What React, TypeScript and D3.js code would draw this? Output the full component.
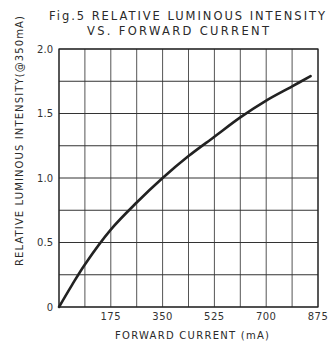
import React from 'react';
import * as d3 from 'd3';

const currentMA = [0, 43.75, 87.5, 175, 262.5, 350, 437.5, 525, 612.5, 700, 787.5, 850];
const relIntensity = [0, 0.17, 0.33, 0.6, 0.81, 1.0, 1.17, 1.32, 1.47, 1.6, 1.71, 1.79];
const xTicks = [175, 350, 525, 700, 875];
const yTicks = [0, 0.5, 1.0, 1.5, 2.0];
const xGrid = d3.range(0, 876, 87.5);
const yGrid = d3.range(0, 2.01, 0.25);

const W = 332;
const H = 344;
const margin = { top: 49, right: 14, bottom: 37, left: 59 };

const App = () => {
    const iw = W - margin.left - margin.right;
    const ih = H - margin.top - margin.bottom;
    const x = d3.scaleLinear().domain([0, 875]).range([0, iw]);
    const y = d3.scaleLinear().domain([0, 2]).range([ih, 0]);
    const pts = currentMA.map((c, i) => [c, relIntensity[i]] as [number, number]);
    const line = d3.line<[number, number]>()
        .x(d => x(d[0])).y(d => y(d[1]))
        .curve(d3.curveCatmullRom.alpha(0.5));
    const font = "'DejaVu Sans', sans-serif";
    const ink = '#2a2a2a';

    return (
        <svg width={W} height={H} style={{ position: 'absolute', left: 0, top: 0, background: '#fff' }}
            fontFamily={font} fill={ink}>
            <text x={187} y={20} fontSize={11.5} textAnchor="middle" textLength={276} lengthAdjust="spacing">
                Fig.5 RELATIVE LUMINOUS INTENSITY
            </text>
            <text x={178} y={35} fontSize={11.5} textAnchor="middle" textLength={182} lengthAdjust="spacing">
                VS. FORWARD CURRENT
            </text>
            <g transform={`translate(${margin.left},${margin.top})`}>
                {xGrid.map(v => (
                    <line key={'x' + v} x1={x(v)} x2={x(v)} y1={0} y2={ih} stroke="#555" strokeWidth={1} />
                ))}
                {yGrid.map(v => (
                    <line key={'y' + v} x1={0} x2={iw} y1={y(v)} y2={y(v)} stroke="#333" strokeWidth={1} />
                ))}
                <rect x={0} y={0} width={iw} height={ih} fill="none" stroke="#222" strokeWidth={1.2} />
                <path d={line(pts) || ''} fill="none" stroke="#222" strokeWidth={2.6} strokeLinecap="round" />
                {yTicks.map(v => (
                    <text key={'yt' + v} x={-6} y={y(v)} dy="0.35em" fontSize={10} textAnchor="end" fill="#333">
                        {v === 0 ? '0' : v.toFixed(1)}
                    </text>
                ))}
                {xTicks.map(v => (
                    <text key={'xt' + v} x={x(v)} y={ih + 13} fontSize={10} textAnchor="middle" fill="#333" letterSpacing={0.5}>
                        {v}
                    </text>
                ))}
                <text x={192 - margin.left} y={ih + 32} fontSize={10} textAnchor="middle"
                    textLength={154} lengthAdjust="spacing">
                    FORWARD CURRENT (mA)
                </text>
            </g>
            <text transform="translate(23,141) rotate(-90)" fontSize={10}
                textAnchor="middle" textLength={250} lengthAdjust="spacing">
                RELATIVE LUMINOUS INTENSITY(@350mA)
            </text>
        </svg>
    );
};

export default App;
